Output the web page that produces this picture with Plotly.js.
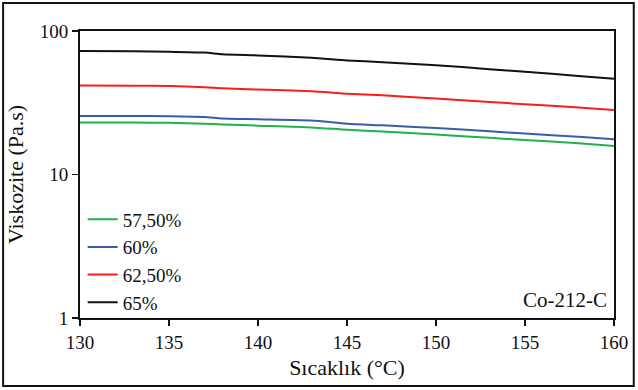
<!DOCTYPE html>
<html><head><meta charset="utf-8">
<script src="https://cdn.plot.ly/plotly-3.0.1.min.js"></script>
<style>html,body{margin:0;padding:0;background:#fff}#chart{width:638px;height:390px}</style>
</head><body><div id="chart"></div>
<script>
const temperature = [130, 133, 135, 137, 138, 140, 143, 145, 147, 150, 153, 155, 158, 160];
const visc575 = [23.0, 23.0, 22.9, 22.6, 22.3, 21.9, 21.3, 20.5, 19.9, 19.0, 18.0, 17.4, 16.5, 15.8];
const visc60  = [25.6, 25.6, 25.5, 25.2, 24.6, 24.3, 23.8, 22.6, 22.0, 21.1, 20.0, 19.3, 18.3, 17.6];
const visc625 = [41.7, 41.6, 41.3, 40.6, 39.9, 39.1, 38.0, 36.6, 35.6, 33.8, 32.0, 30.9, 29.3, 28.2];
const visc65  = [72.5, 72.3, 71.8, 70.7, 69.0, 67.6, 65.2, 62.4, 60.6, 57.8, 54.2, 52.0, 48.6, 46.4];
const seriesNames = ['57,50%', '60%', '62,50%', '65%'];
const seriesColors = ['#22b14c', '#3a5daa', '#ff1a1a', '#111111'];
const seriesData = [visc575, visc60, visc625, visc65];

const traces = seriesData.map((y, i) => ({
  x: temperature, y: y, name: seriesNames[i], type: 'scatter', mode: 'lines',
  line: {color: seriesColors[i], width: 2, shape: 'spline', smoothing: 0.6}
}));

const font = 'Times New Roman';
const layout = {
  width: 638, height: 390,
  margin: {l: 80, r: 24, t: 31, b: 72},
  paper_bgcolor: '#fff', plot_bgcolor: '#fff',
  font: {family: font, size: 17, color: '#111'},
  showlegend: true,
  legend: {x: 0.005, y: 0.41, xanchor: 'left', yanchor: 'top', bgcolor: 'rgba(0,0,0,0)',
           font: {family: font, size: 19, color: '#111'}, tracegroupgap: 0, itemwidth: 30},
  xaxis: {range: [130, 160], tickvals: [130, 135, 140, 145, 150, 155, 160],
          showgrid: false, zeroline: false, showline: true, mirror: true, linecolor: '#111', linewidth: 2,
          ticks: 'outside', ticklen: 6, tickwidth: 1.5, tickcolor: '#111',
          tickfont: {family: font, size: 19, color: '#111'},
          title: {text: 'Sıcaklık (°C)', font: {family: font, size: 22, color: '#111'}, standoff: 8}},
  yaxis: {type: 'log', range: [0, 2], tickvals: [1, 10, 100], ticktext: ['1', '10', '100'],
          showgrid: false, zeroline: false, showline: true, mirror: true, linecolor: '#111', linewidth: 2,
          ticks: 'outside', ticklen: 6, tickwidth: 1.5, tickcolor: '#111',
          tickfont: {family: font, size: 19, color: '#111'},
          title: {text: 'Viskozite (Pa.s)', font: {family: font, size: 22, color: '#111'}, standoff: 10}},
  annotations: [{text: 'Co-212-C', xref: 'paper', yref: 'paper', x: 0.99, y: 0.015,
                 xanchor: 'right', yanchor: 'bottom', showarrow: false,
                 font: {family: font, size: 21, color: '#111'}}],
  shapes: [{type: 'rect', xref: 'paper', yref: 'paper', x0: -0.144, x1: 1.037, y0: -0.237, y1: 1.0976,
            line: {color: '#111', width: 2}, fillcolor: 'rgba(0,0,0,0)', layer: 'below'}]
};
Plotly.newPlot('chart', traces, layout, {displayModeBar: false, staticPlot: true});
</script></body></html>
